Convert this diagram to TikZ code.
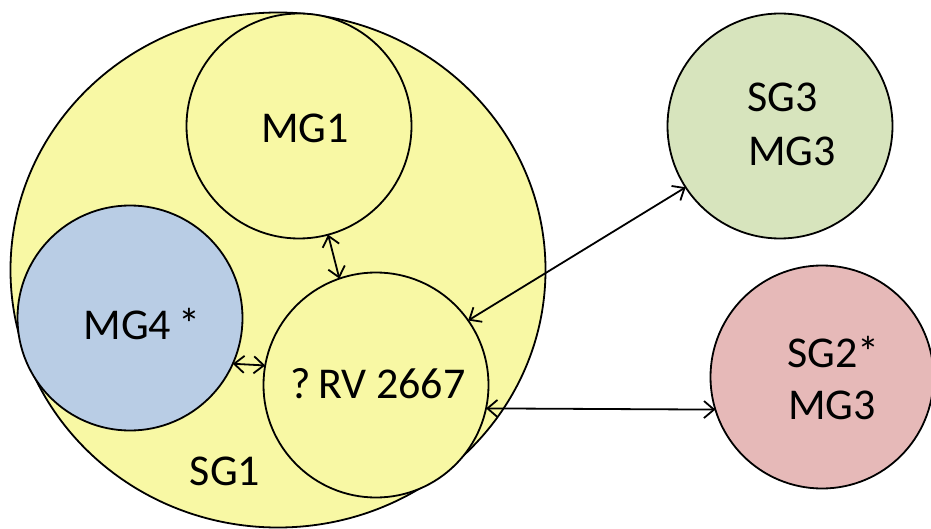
\documentclass[tikz,border=0pt]{standalone}
\usepackage{fontspec}
\setmainfont{Carlito}
\usetikzlibrary{shapes.geometric,arrows.meta}
\definecolor{sgyellow}{HTML}{F8F8A4}
\definecolor{mgblue}{HTML}{B9CDE5}
\definecolor{sggreen}{HTML}{D7E4BD}
\definecolor{sgpink}{HTML}{E6B9B8}
\begin{document}
\begin{tikzpicture}[x=1pt,y=-1pt,
  group/.style={draw=black, line width=1.8pt, circle, inner sep=0pt, outer sep=0pt, minimum size=225pt},
  caption/.style={font=\fontsize{44}{53}\selectfont, inner sep=0pt, anchor=base},
  link/.style={line width=1.8pt,
    {Straight Barb[length=10pt,width=17pt]}-{Straight Barb[length=10pt,width=17pt]}}]
\useasboundingbox (0,0) rectangle (931,529);
% outer group and its members
\node[draw=black, ellipse, line width=1.8pt, fill=sgyellow, minimum width=535pt,
      minimum height=515pt, inner sep=0pt, outer sep=0pt] (sg1) at (278,270) {};
\node[group, fill=sgyellow] (mg1) at (299,126) {};
\node[group, fill=mgblue] (mg4) at (130,318) {};
\node[group, fill=sgyellow] (rv) at (376,385) {};
% outside groups
\node[group, fill=sggreen] (sg3) at (780,126) {};
\node[group, fill=sgpink, minimum size=223pt] (sg2) at (822,377) {};
% captions
\node[caption] (mg1-t) at (305,143) {MG1};
\node[caption] (mg4-t) at (142,339) {MG4\,*};
\node[caption] (rv-t) at (378,398) {?\,RV 2667};
\node[caption] (sg1-t) at (225,485) {SG1};
\node[caption, anchor=base west] (sg3-a) at (747,112) {SG3};
\node[caption, anchor=base west] (sg3-b) at (748,166) {MG3};
\node[caption, anchor=base west] (sg2-a) at (787,367) {SG2*};
\node[caption, anchor=base west] (sg2-b) at (788,419) {MG3};
% links
\draw[link] (mg1.-75) -- (rv.109);
\draw[link] (mg4.-24) -- (rv.170);
\draw[link] (rv.35) -- (sg3.213);
\draw[link] (rv.-12) -- (sg2.197);
\end{tikzpicture}
\end{document}
